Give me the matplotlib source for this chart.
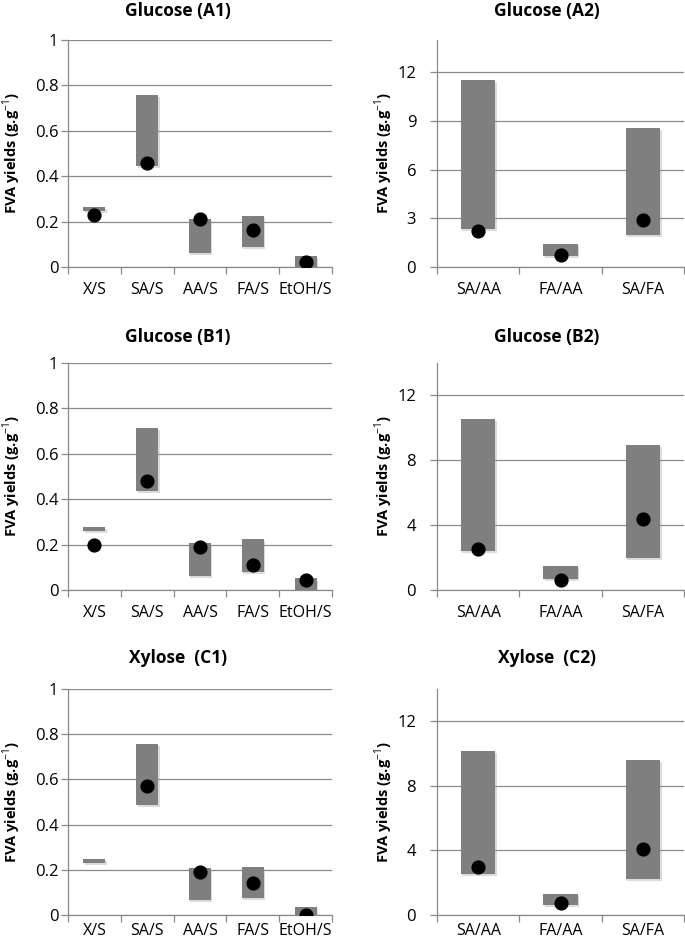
import matplotlib
matplotlib.use("Agg")
import matplotlib.pyplot as plt
import matplotlib.patheffects as pe
import numpy as np

plt.rcParams["font.family"] = ["Open Sans", "DejaVu Sans"]
plt.rcParams["mathtext.fontset"] = "custom"
plt.rcParams["mathtext.rm"] = "Open Sans"
plt.rcParams["mathtext.bf"] = "Open Sans:bold"

# yields per substrate (left column)
cats_1 = ["X/S", "SA/S", "AA/S", "FA/S", "EtOH/S"]
a1_lo = [0.247, 0.446, 0.063, 0.087, 0.0]
a1_hi = [0.265, 0.759, 0.213, 0.225, 0.049]
a1_pt = [0.231, 0.46, 0.21, 0.162, 0.02]

b1_lo = [0.262, 0.435, 0.063, 0.079, 0.0]
b1_hi = [0.279, 0.715, 0.206, 0.225, 0.051]
b1_pt = [0.20, 0.48, 0.19, 0.11, 0.044]

c1_lo = [0.232, 0.486, 0.068, 0.077, 0.0]
c1_hi = [0.250, 0.758, 0.208, 0.214, 0.034]
c1_pt = [np.nan, 0.572, 0.189, 0.14, 0.0]

# product ratios (right column)
cats_2 = ["SA/AA", "FA/AA", "SA/FA"]
a2_lo = [2.37, 0.68, 2.0]
a2_hi = [11.54, 1.42, 8.6]
a2_pt = [2.22, 0.76, 2.88]

b2_lo = [2.42, 0.70, 1.95]
b2_hi = [10.54, 1.48, 8.92]
b2_pt = [2.54, 0.60, 4.35]

c2_lo = [2.53, 0.62, 2.26]
c2_hi = [10.19, 1.32, 9.61]
c2_pt = [2.98, 0.72, 4.07]

W, H = 685, 947
GRID = "#8a8a8a"


def px_axes(fig, left, top, right, bottom):
    return fig.add_axes([left / W, 1 - bottom / H, (right - left) / W, (bottom - top) / H])


def draw(ax, cats, lo, hi, pt, ymax, yticks, ylab_fmt, label_pad, xpad):
    x = np.arange(len(cats))
    lo = np.array(lo); hi = np.array(hi)
    bars = ax.bar(x, hi - lo, bottom=lo, width=0.42, color="#7f7f7f", zorder=3)
    for b in bars:
        b.set_path_effects([pe.SimplePatchShadow(offset=(1, -1.5), shadow_rgbFace="#999999", alpha=0.35),
                            pe.Normal()])
    ax.scatter(x, pt, s=85, color="black", zorder=4)
    ax.set_xlim(-0.5, len(cats) - 0.5)
    ax.set_ylim(0, ymax)
    ax.set_yticks(yticks)
    ax.set_yticklabels([ylab_fmt(v) for v in yticks], fontsize=12)
    ax.yaxis.grid(True, color=GRID, lw=0.9, zorder=0)
    ax.set_axisbelow(True)
    ax.tick_params(axis="y", length=5, color=GRID, width=0.9, pad=label_pad)
    # boundary ticks below the axis, labels at the centres
    ax.set_xticks(np.arange(len(cats) + 1) - 0.5)
    ax.set_xticklabels([])
    ax.set_xticks(x, minor=True)
    ax.set_xticklabels(cats, minor=True, fontsize=11.5)
    ax.tick_params(axis="x", which="major", length=5, color=GRID, width=0.9)
    ax.tick_params(axis="x", which="minor", length=0, pad=xpad)
    for s in ["top", "right"]:
        ax.spines[s].set_visible(False)
    for s in ["left", "bottom"]:
        ax.spines[s].set_color(GRID)
        ax.spines[s].set_linewidth(0.9)


def fmt1(v):
    return "0" if v == 0 else ("1" if v == 1 else f"{v:.1f}")


fig = plt.figure(figsize=(W / 100, H / 100), dpi=100)

rows = [
    (40, 267, "Glucose (A1)", "Glucose (A2)", (a1_lo, a1_hi, a1_pt), (a2_lo, a2_hi, a2_pt), [0, 3, 6, 9, 12], 11, 11),
    (363, 590, "Glucose (B1)", "Glucose (B2)", (b1_lo, b1_hi, b1_pt), (b2_lo, b2_hi, b2_pt), [0, 4, 8, 12], 337, 11),
    (689, 915, "Xylose  (C1)", "Xylose  (C2)", (c1_lo, c1_hi, c1_pt), (c2_lo, c2_hi, c2_pt), [0, 4, 8, 12], 658, 6),
]

ylab = r"FVA yields (g.g$^{\mathrm{-1}}$)"
for top, bot, t1, t2, d1, d2, ticks2, ty, xpad in rows:
    ax1 = px_axes(fig, 68, top, 332, bot)
    draw(ax1, cats_1, *d1, 1.0, [0, 0.2, 0.4, 0.6, 0.8, 1.0], fmt1, 2, xpad)
    ax1.set_ylabel(ylab, fontsize=10.5, fontweight="bold", labelpad=8.5)
    ax2 = px_axes(fig, 437, top, 684, bot)
    draw(ax2, cats_2, *d2, 14, ticks2, lambda v: f"{v:g}", 10, xpad)
    ax2.set_ylabel(ylab, fontsize=10.5, fontweight="bold", labelpad=1.5)
    fig.text(178 / W, 1 - ty / H, t1, ha="center", va="center", fontsize=12.5, fontweight="bold")
    fig.text(547 / W, 1 - ty / H, t2, ha="center", va="center", fontsize=12.5, fontweight="bold")

fig.savefig("out.png", dpi=100)
